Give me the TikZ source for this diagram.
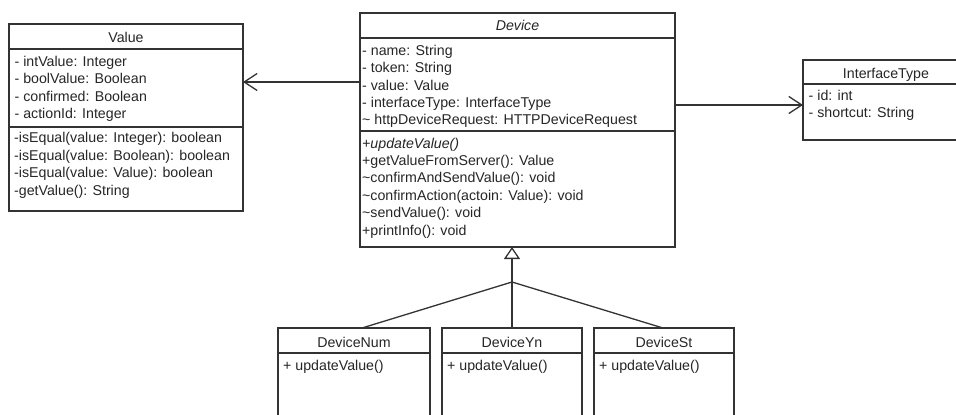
\documentclass[tikz,border=0pt]{standalone}
\usepackage{fontspec}
\setmainfont{Liberation Sans}
\usetikzlibrary{arrows.meta}
\usetikzlibrary{positioning}

\tikzset{
  umlbox/.style={draw=black!80, line width=1.3pt, outer sep=0pt, inner sep=0pt, anchor=north west},
  umlline/.style={draw=black!80, line width=1.3pt},
  umltext/.style={anchor=base west, inner sep=0pt, text=black!85, font=\fontsize{14.2}{17.4}\selectfont},
  umlhead/.style={umltext, anchor=base},
  assoc/.style={umlline, -{Straight Barb[length=13pt,width=17pt]}},
  gen/.style={umlline, -{Triangle[open,length=12pt,width=16pt]}}
}

\begin{document}
\begin{tikzpicture}[x=1pt,y=-1pt]
\useasboundingbox (0,0) rectangle (956,415);
\clip (0,0) rectangle (956,415);
\fill[white] (0,0) rectangle (956,415);

% class Value
\node[umlbox, minimum width=234, minimum height=187] (value) at (9,24) {};
\node[umlhead] (valuehead) at (126,42.5) {Value};
\draw[umlline] (9,49) -- (243,49);
\draw[umlline] (9,127) -- (243,127);
\foreach \txt [count=\i] in {- intValue: Integer, - boolValue: Boolean, - confirmed: Boolean, - actionId: Integer}
  \node[umltext] (valueattr\i) at (14.4, 48.7+17.5*\i) {\txt};
\foreach \txt [count=\i] in {-isEqual(value: Integer): boolean, -isEqual(value: Boolean): boolean, -isEqual(value: Value): boolean, -getValue(): String}
  \node[umltext] (valueop\i) at (14, 125.3+17.5*\i) {\txt};

% class Device
\node[umlbox, minimum width=315, minimum height=234] (device) at (360,13) {};
\node[umlhead] (devicehead) at (517.5,30.2) {\itshape Device};
\draw[umlline] (360,38) -- (675,38);
\draw[umlline] (360,131) -- (675,131);
\foreach \txt [count=\i] in {- name: String, - token: String, - value: Value, - interfaceType: InterfaceType, {\textasciitilde{} httpDeviceRequest: HTTPDeviceRequest}}
  \node[umltext] (deviceattr\i) at (362, 37.8+17.4*\i) {\txt};
\foreach \txt [count=\i] in {{\itshape +updateValue()}, +getValueFromServer(): Value, \textasciitilde{}confirmAndSendValue(): void, \textasciitilde{}confirmAction(actoin: Value): void, \textasciitilde{}sendValue(): void, +printInfo(): void}
  \node[umltext] (deviceop\i) at (362, 130.6+17.4*\i) {\txt};

% class InterfaceType
\node[umlbox, minimum width=166, minimum height=80] (itype) at (803,60) {};
\node[umlhead] (itypehead) at (886,78.5) {InterfaceType};
\draw[umlline] (803,84) -- (969,84);
\node[umltext] (itypeattr1) at (808.5,100.2) {- id: int};
\node[umltext] (itypeattr2) at (808.5,117.8) {- shortcut: String};

% subclasses
\node[umlbox, minimum width=152, minimum height=110] (devnum) at (278,328) {};
\node[umlbox, minimum width=140, minimum height=110] (devyn) at (442,328) {};
\node[umlbox, minimum width=140, minimum height=110] (devst) at (594,328) {};
\node[umlhead] (devnumhead) at (354,347.2) {DeviceNum};
\node[umlhead] (devynhead) at (512,347.2) {DeviceYn};
\node[umlhead] (devsthead) at (664,347.2) {DeviceSt};
\draw[umlline] (278,353) -- (430,353);
\draw[umlline] (442,353) -- (582,353);
\draw[umlline] (594,353) -- (734,353);
\node[umltext] (devnumop) at (283,370.5) {+ updateValue()};
\node[umltext] (devynop) at (447,370.5) {+ updateValue()};
\node[umltext] (devstop) at (599,370.5) {+ updateValue()};

% associations
\coordinate (valuerow) at (0,82);
\coordinate (ityperow) at (0,105);
\draw[assoc] (device.west |- valuerow) -- (value.east |- valuerow);
\draw[assoc] (device.east |- ityperow) -- (itype.west |- ityperow);

% generalization
\coordinate (split) at (512,282);
\coordinate (numtop) at (362,328);
\coordinate (sttop) at (663,328);
\draw[gen] (split) -- (split |- device.south);
\draw[umlline] (numtop) -- (split);
\draw[umlline] (devyn.north) -- (split);
\draw[umlline] (sttop) -- (split);
\end{tikzpicture}
\end{document}
